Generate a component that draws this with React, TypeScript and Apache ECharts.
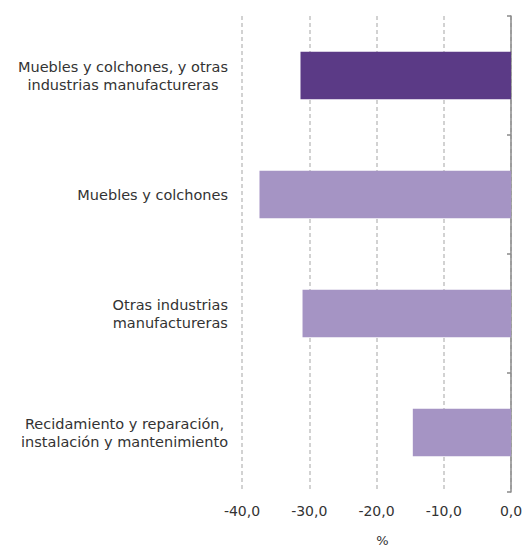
import React, { useEffect, useRef } from "react";
import * as echarts from "echarts";

const categories: string[] = [
  "Muebles y colchones, y otras\nindustrias manufactureras",
  "Muebles y colchones",
  "Otras industrias\nmanufactureras",
  "Recidamiento y reparación,\ninstalación y mantenimiento",
];
const values: number[] = [-31.3, -37.4, -31.0, -14.6];
const xTicks = { min: -40, max: 0, interval: 10 };
const axisName = "%";

const FONT = "DejaVu Sans";

export default function App() {
  const ref = useRef<HTMLDivElement>(null);
  useEffect(() => {
    document.body.style.margin = "0";
    if (!ref.current) return;
    const chart = echarts.init(ref.current, undefined, { renderer: "svg" });
    chart.setOption({
      animation: false,
      grid: { left: 242, right: 15, top: 16, bottom: 58, containLabel: false, outerBoundsMode: "none" },
      xAxis: {
        type: "value",
        min: xTicks.min,
        max: xTicks.max,
        interval: xTicks.interval,
        name: axisName,
        nameLocation: "middle",
        nameGap: 42,
        nameTextStyle: { fontFamily: FONT, fontSize: 13, color: "#333", padding: [0, 0, 0, 12] },
        axisLine: { show: false },
        axisTick: { show: false },
        axisLabel: {
          margin: 12,
          fontFamily: FONT,
          fontSize: 14,
          color: "#333",
          formatter: (v: number) => v.toFixed(1).replace(".", ","),
        },
        splitLine: {
          show: true,
          lineStyle: { color: "#c4c4c4", width: 1.5, type: [4, 3] },
        },
      },
      yAxis: [
        {
          type: "category",
          data: categories,
          inverse: true,
          position: "left",
          axisLine: { show: false },
          axisTick: { show: false },
          splitLine: { show: false },
          axisLabel: {
            margin: 14,
            align: "right",
            formatter: (v: string) =>
              v
                .split("\n")
                .map((l) => `{c|${l}}`)
                .join("\n"),
            rich: {
              c: {
                align: "center",
                fontFamily: FONT,
                fontSize: 14.5,
                lineHeight: 18,
                color: "#333",
              },
            },
          },
        },
        {
          type: "category",
          data: categories,
          inverse: true,
          position: "right",
          axisLine: { show: true, lineStyle: { color: "#8a8a8a", width: 1.5 } },
          axisTick: { show: true, inside: true, length: 4, lineStyle: { color: "#8a8a8a", width: 1.5 } },
          axisLabel: { show: false },
          splitLine: { show: false },
        },
      ],
      series: [
        {
          type: "bar",
          yAxisIndex: 0,
          barWidth: "40%",
          data: values.map((v, i) => ({
            value: v,
            itemStyle: { color: i === 0 ? "#5B3A86" : "#A594C4" },
          })),
        },
      ],
    });
    return () => chart.dispose();
  }, []);
  return <div ref={ref} style={{ width: 526, height: 550 }} />;
}
